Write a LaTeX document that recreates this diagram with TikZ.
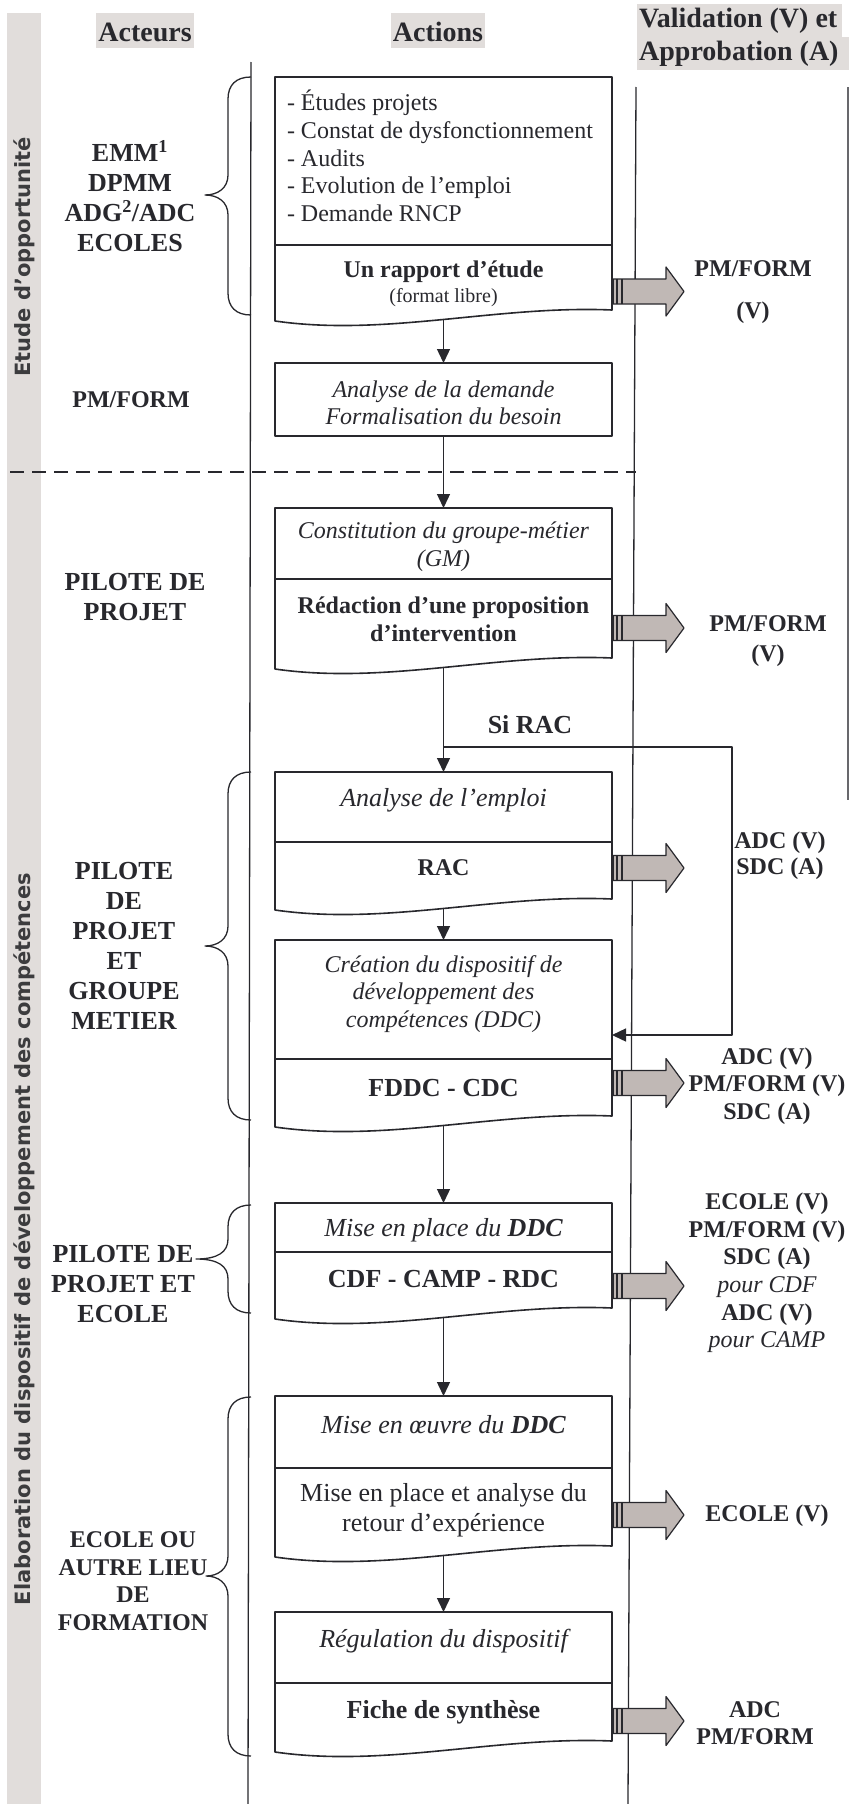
\documentclass[tikz,border=0pt]{standalone}
\usepackage{fontspec}
\setmainfont{Liberation Serif}
\newfontfamily\bandfont{DejaVu Sans}
\usetikzlibrary{arrows.meta,calc}
\definecolor{ink}{RGB}{40,40,45}
\definecolor{bandgrey}{RGB}{225,221,219}
\definecolor{arrgrey}{RGB}{192,184,181}
\definecolor{bandtext}{RGB}{60,60,62}
\newcommand\szA{\fontsize{24}{27.6}\selectfont}
\newcommand\szB{\fontsize{26}{30}\selectfont}
\newcommand\szH{\fontsize{28}{32}\selectfont}
\newcommand\szS{\fontsize{20}{23}\selectfont}
\newcommand\szBand{\fontsize{21}{24}\selectfont}
\newcommand\mybrace[4]{%
  \draw[braceln] (251,#1) .. controls (236,#1) and (228,#1+8) .. (228,#1+22)
    -- (228,#2-20) .. controls (228,#2-7) and (218,#2) .. (#4,#2)
    .. controls (218,#2) and (228,#2+7) .. (228,#2+20)
    -- (228,#3-22) .. controls (228,#3-8) and (236,#3) .. (251,#3);}
\newcommand\docbottom[2]{%
  \draw[boxln] (#1.north west) -- (#1.south west)
    .. controls ($(#1.south west)+(111,16)$) and ($(#1.south west)+(222,-16)$) ..
    ($(#1.south east)+(0,-11)$) coordinate[pos=0.5] (#2)
    -- (#1.north east);}
\tikzset{
  fatarr/.pic={
    \filldraw[fill=arrgrey, draw=ink, line width=1.2pt]
      (0,-12.5) -- (54,-12.5) -- (54,-24.5) -- (72,0) -- (54,24.5) -- (54,12.5) -- (0,12.5) -- cycle;
    \draw[ink, line width=2.2pt] (1.3,-12.5) -- (1.3,12.5);
    \draw[ink, line width=1.2pt] (5,-12.5) -- (5,12.5);
    \draw[ink, line width=2pt] (10,-12.5) -- (10,12.5);
  }
}
\begin{document}
\begin{tikzpicture}[x=1pt,y=-1pt,line join=round,
  part/.style={draw=ink, line width=1.6pt, minimum width=337pt, inner sep=0pt, outer sep=0pt},
  ghost/.style={minimum width=337pt, inner sep=0pt, outer sep=0pt},
  boxln/.style={draw=ink, line width=1.6pt},
  txt/.style={text=ink, inner sep=0pt, outer sep=0pt, align=center},
  hdr/.style={text=ink, inner sep=0pt, font=\szH\bfseries},
  bandtxt/.style={text=bandtext, inner sep=0pt, font=\bandfont\bfseries\szBand},
  flow/.style={draw=ink, line width=1.4pt, -{Triangle[length=14pt,width=13pt]}},
  vline/.style={draw=ink, line width=1.3pt},
  braceln/.style={draw=ink, line width=1.3pt},
  dashln/.style={draw=ink, line width=1.5pt, dash pattern=on 14pt off 8pt}]
\useasboundingbox (0,0) rectangle (850,1804);
\fill[white] (0,0) rectangle (850,1804);

% side band
\fill[bandgrey] (7,13) rectangle (41,1804);
\node[bandtxt, rotate=90] (bandA) at (24,257) {Etude d’opportunité};
\node[bandtxt, rotate=90] (bandB) at (24,1239) {Elaboration du dispositif de développement des compétences};

% headers
\fill[bandgrey] (96,13) rectangle (194,48);
\node[hdr] (hA) at (145,32) {Acteurs};
\fill[bandgrey] (391,13) rectangle (485,48);
\node[hdr] (hB) at (438,32) {Actions};
\fill[bandgrey] (637,4) rectangle (842,37);
\fill[bandgrey] (637,37) rectangle (849,70);
\node[hdr, anchor=west] (hC1) at (639,21) {Validation (V) et};
\node[hdr, anchor=west] (hC2) at (639,54) {Approbation (A)};

% column lines
\coordinate (L1) at (251,62); \coordinate (L2) at (248,1804);
\coordinate (R1) at (636,87); \coordinate (R2) at (628,1804);
\coordinate (F1) at (848,87); \coordinate (F2) at (848,800);
\draw[vline] (L1) -- (L2);
\draw[vline] (R1) -- (R2);
\draw[vline, draw=ink!70] (F1) -- (F2);

% dashed separator
\coordinate (D1) at (10,472); \coordinate (D2) at (636,472);
\draw[dashln] (D1) -- (D2);

% braces
\mybrace{77}{195}{315}{205}
\mybrace{772}{946}{1120}{205}
\mybrace{1205}{1259}{1313}{196}
\mybrace{1397}{1576}{1756}{206}

% boxes
\node[part, minimum height=168pt, anchor=north] (b1u) at (443.5,77) {};
\node[ghost, minimum height=76pt, anchor=north] (b1l) at (443.5,245) {};
\docbottom{b1l}{b1w}
\node[part, minimum height=73pt, anchor=north] (b2) at (443.5,363) {};
\node[part, minimum height=71pt, anchor=north] (b3u) at (443.5,508) {};
\node[ghost, minimum height=90pt, anchor=north] (b3l) at (443.5,579) {};
\docbottom{b3l}{b3w}
\node[part, minimum height=70pt, anchor=north] (b4u) at (443.5,772) {};
\node[ghost, minimum height=68pt, anchor=north] (b4l) at (443.5,842) {};
\docbottom{b4l}{b4w}
\node[part, minimum height=119pt, anchor=north] (b5u) at (443.5,940) {};
\node[ghost, minimum height=68pt, anchor=north] (b5l) at (443.5,1059) {};
\docbottom{b5l}{b5w}
\node[part, minimum height=49pt, anchor=north] (b6u) at (443.5,1203) {};
\node[ghost, minimum height=67pt, anchor=north] (b6l) at (443.5,1252) {};
\docbottom{b6l}{b6w}
\node[part, minimum height=72pt, anchor=north] (b7u) at (443.5,1396) {};
\node[ghost, minimum height=89pt, anchor=north] (b7l) at (443.5,1468) {};
\docbottom{b7l}{b7w}
\node[part, minimum height=71pt, anchor=north] (b8u) at (443.5,1612) {};
\node[ghost, minimum height=69pt, anchor=north] (b8l) at (443.5,1683) {};
\docbottom{b8l}{b8w}

% box texts
\node[txt, font=\szA, align=left, anchor=west] (t1a) at (287,156)
  {- Études projets\\- Constat de dysfonctionnement\\- Audits\\- Evolution de l’emploi\\- Demande RNCP};
\node[txt, font=\szA\bfseries] (t1b) at (443.5,272) {Un rapport d’étude};
\node[txt, font=\szS] (t1c) at (443.5,298) {(format libre)};
\node[txt, font=\szA\itshape] (t2) at (443.5,403) {Analyse de la demande\\Formalisation du besoin};
\node[txt, font=\szA\itshape] (t3a) at (443.5,546.5) {Constitution du groupe-métier\\(GM)};
\node[txt, font=\szA\bfseries] (t3b) at (443.5,619.5) {Rédaction d’une proposition\\d’intervention};
\node[txt, font=\szB\itshape] (t4a) at (443.5,800) {Analyse de l’emploi};
\node[txt, font=\szA\bfseries] (t4b) at (443.5,868) {RAC};
\node[txt, font=\szA\itshape] (t5a) at (443.5,994) {Création du dispositif de\\développement des\\compétences (DDC)};
\node[txt, font=\szB\bfseries] (t5b) at (443.5,1088) {FDDC - CDC};
\node[txt, font=\szB\itshape] (t6a) at (443.5,1230) {Mise en place du \textbf{DDC}};
\node[txt, font=\szB\bfseries] (t6b) at (443.5,1279) {CDF - CAMP - RDC};
\node[txt, font=\szB\itshape] (t7a) at (443.5,1425) {Mise en œuvre du \textbf{DDC}};
\node[txt, font=\szB] (t7b) at (443.5,1510) {Mise en place et analyse du\\retour d’expérience};
\node[txt, font=\szB\itshape] (t8a) at (443.5,1641) {Régulation du dispositif};
\node[txt, font=\szB\bfseries] (t8b) at (443.5,1712) {Fiche de synthèse};

% actors
\node[txt, font=\szB\bfseries] (a1) at (130,196) {EMM\textsuperscript{1}\\DPMM\\ADG\textsuperscript{2}/ADC\\ECOLES};
\node[txt, font=\szA\bfseries] (a2) at (131,400) {PM/FORM};
\node[txt, font=\szB\bfseries] (a3) at (135,597) {PILOTE DE\\PROJET};
\node[txt, font=\szB\bfseries] (a4) at (124,946) {PILOTE\\DE\\PROJET\\ET\\GROUPE\\METIER};
\node[txt, font=\szB\bfseries] (a5) at (123,1284) {PILOTE DE\\PROJET ET\\ECOLE};
\node[txt, font=\szA\bfseries] (a6) at (133,1581) {ECOLE OU\\AUTRE LIEU\\DE\\FORMATION};

% flow arrows
\draw[flow] (b2.north |- b1w) -- (b2.north);
\draw[flow] (b2.south) -- (b3u.north);
\draw[flow] (b4u.north |- b3w) -- (b4u.north);
\draw[flow] (b5u.north |- b4w) -- (b5u.north);
\draw[flow] (b6u.north |- b5w) -- (b6u.north);
\draw[flow] (b7u.north |- b6w) -- (b7u.north);
\draw[flow] (b8u.north |- b7w) -- (b8u.north);

% RAC loop
\node[txt, font=\szB\bfseries] (sirac) at (530,725) {Si RAC};
\coordinate (loopA) at (443.5,747);
\coordinate (loopB) at (732,1035);
\draw[flow] (loopA) -| (loopB) -- (b5u.east |- loopB);

% validation arrows
\pic at (612,291.5) {fatarr};
\pic at (612,628) {fatarr};
\pic at (612,868) {fatarr};
\pic at (612,1083) {fatarr};
\pic at (612,1286) {fatarr};
\pic at (612,1515) {fatarr};
\pic at (612,1721) {fatarr};

% validation labels
\node[txt, font=\szA\bfseries] (v1) at (753,292) {PM/FORM\\[15pt](V)};
\node[txt, font=\szA\bfseries] (v2) at (768,641) {PM/FORM\\[2pt](V)};
\node[txt, font=\szA\bfseries] (v3) at (780,856) {ADC (V)\\[-1.5pt]SDC (A)};
\node[txt, font=\szA\bfseries] (v4) at (767,1086) {ADC (V)\\PM/FORM (V)\\SDC (A)};
\node[txt, font=\szA\bfseries] (v5) at (767,1273) {ECOLE (V)\\PM/FORM (V)\\SDC (A)\\{\mdseries\itshape pour CDF}\\ADC (V)\\{\mdseries\itshape pour CAMP}};
\node[txt, font=\szA\bfseries] (v6) at (767,1516) {ECOLE (V)};
\node[txt, font=\szA\bfseries] (v7) at (755,1723) {ADC\\PM/FORM};
\end{tikzpicture}
\end{document}
